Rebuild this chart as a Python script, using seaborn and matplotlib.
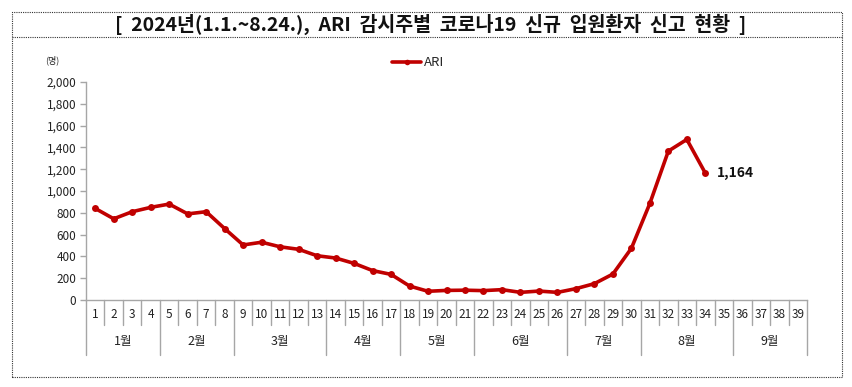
import pandas as pd
import matplotlib.pyplot as plt
import matplotlib.transforms as mtransforms
from matplotlib.patches import Rectangle
from matplotlib.lines import Line2D
import seaborn as sns

# 감시주별 신규 입원환자 (1~34주)
weeks = list(range(1, 35))
ari = [840, 745, 810, 850, 880, 790, 810, 655, 505, 530,
       488, 465, 406, 385, 336, 270, 235, 128, 80, 88,
       90, 86, 95, 70, 82, 70, 104, 150, 238, 474,
       886, 1366, 1473, 1164]

all_weeks = list(range(1, 40))
months = ['1월', '2월', '3월', '4월', '5월', '6월', '7월', '8월', '9월']
month_weeks = [4, 4, 5, 4, 4, 5, 4, 5, 4]

title = '[  2024년(1.1.~8.24.),  ARI  감시주별  코로나19  신규  입원환자  신고  현황  ]'

sns.set_style('white')
plt.rcParams['font.family'] = ['Noto Sans CJK KR', 'DejaVu Sans']

df = pd.DataFrame({'week': weeks, 'ARI': ari})
red = '#C00000'
gray = '#A6A6A6'

fig = plt.figure(figsize=(8.52, 3.87), dpi=100)
ax = fig.add_axes([86 / 852, 1 - 300 / 387, (807 - 86) / 852, 218 / 387])

sns.lineplot(data=df, x='week', y='ARI', color=red, linewidth=2.6,
             marker='o', markersize=5, markeredgewidth=0, ax=ax, legend=False)

ax.set_xlim(0.5, 39.5)
ax.set_ylim(0, 2000)
ax.set_yticks(range(0, 2001, 200))
ax.set_yticklabels([f'{v:,}' for v in range(0, 2001, 200)], fontsize=8.5)
ax.set_xticks([])
ax.set_xlabel('')
ax.set_ylabel('')
for s in ['top', 'right']:
    ax.spines[s].set_visible(False)
for s in ['left', 'bottom']:
    ax.spines[s].set_color(gray)
    ax.spines[s].set_linewidth(1)
ax.tick_params(axis='y', length=4, width=1, color=gray, direction='out', pad=3,
               left=True, labelcolor='#222222')

# 범주 축 (주 / 월)
trans = mtransforms.blended_transform_factory(ax.transData, ax.transAxes)
for w in all_weeks:
    ax.text(w, -0.068, str(w), transform=trans, ha='center', va='center',
            fontsize=8.5, color='#222222')
edges = [0.5]
for n in month_weeks:
    edges.append(edges[-1] + n)
for i in range(len(all_weeks) + 1):
    x = 0.5 + i
    y_end = -0.25 if x in edges else -0.115
    ax.add_line(Line2D([x, x], [0, y_end], transform=trans, color=gray,
                       linewidth=1, clip_on=False))
for m, a, b in zip(months, edges[:-1], edges[1:]):
    ax.text((a + b) / 2, -0.19, m, transform=trans, ha='center', va='center',
            fontsize=9, color='#222222')

# 마지막 값 레이블
ax.annotate(f'{ari[-1]:,}', (weeks[-1], ari[-1]), xytext=(8, 0),
            textcoords='offset points', ha='left', va='center',
            fontsize=10, fontweight='bold', color='#111111')

# 범례
handle = Line2D([], [], color=red, linewidth=2.6, marker='o', markersize=4,
                markeredgewidth=0)
fig.legend([handle], ['ARI'], loc='center', bbox_to_anchor=(418 / 852, 1 - 63 / 387),
           frameon=False, fontsize=9.5, handlelength=2.2, handletextpad=0.2)

fig.text(52 / 852, 1 - 60 / 387, '(명)', ha='center', va='center', fontsize=6.5,
         color='#222222')

# 제목과 테두리
fig.text(431 / 852, 1 - 24 / 387, title, ha='center', va='center', fontsize=14,
         fontweight='bold', color='#111111')
fig.add_artist(Rectangle((12 / 852, 1 - 377 / 387), (842 - 12) / 852, (377 - 12) / 387,
                         transform=fig.transFigure, fill=False, edgecolor='#333333',
                         linewidth=0.8, linestyle=(0, (1, 1))))
fig.add_artist(Line2D([12 / 852, 842 / 852], [1 - 37 / 387, 1 - 37 / 387],
                      transform=fig.transFigure, color='#333333', linewidth=0.8,
                      linestyle=(0, (1, 1))))

fig.savefig('out.png', dpi=100)
